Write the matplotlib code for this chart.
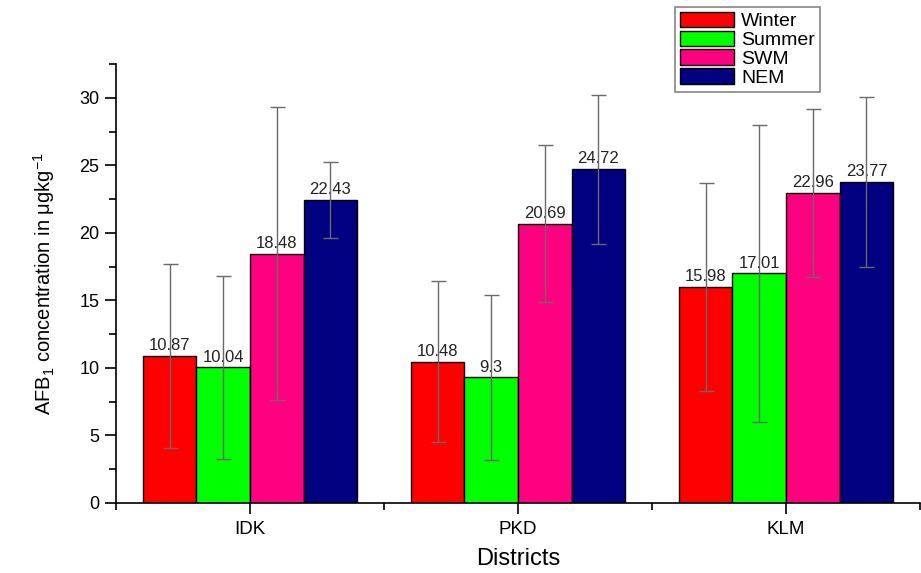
import numpy as np
import matplotlib
matplotlib.use("Agg")
import matplotlib.pyplot as plt
from matplotlib.ticker import MultipleLocator, FixedLocator

plt.rcParams['font.family'] = ['Liberation Sans', 'DejaVu Sans']
plt.rcParams['mathtext.fontset'] = 'custom'
plt.rcParams['mathtext.rm'] = 'Liberation Sans'
plt.rcParams['mathtext.it'] = 'Liberation Sans:italic'

districts = ['IDK', 'PKD', 'KLM']
seasons = ['Winter', 'Summer', 'SWM', 'NEM']
colores = ['#ff0000', '#00ff00', '#ff0080', '#000080']

winter = [10.87, 10.48, 15.98]
summer = [10.04, 9.3, 17.01]
swm = [18.48, 20.69, 22.96]
nem = [22.43, 24.72, 23.77]

err_winter = [6.8, 5.95, 7.7]
err_summer = [6.75, 6.1, 11.0]
err_swm = [10.85, 5.8, 6.2]
err_nem = [2.8, 5.5, 6.3]

valores = [winter, summer, swm, nem]
erros = [err_winter, err_summer, err_swm, err_nem]

fig = plt.figure(figsize=(9.21, 5.73), dpi=100)
ax = fig.add_axes([0.126, 0.1222, 0.873, 0.7657])

x = np.arange(len(districts))
largura = 0.2
for i in range(len(seasons)):
    pos = x + (i - 1.5) * largura
    ax.bar(pos, valores[i], largura, color=colores[i], edgecolor='black',
           linewidth=1, label=seasons[i], zorder=2)
    ax.errorbar(pos, valores[i], yerr=erros[i], fmt='none', ecolor='#6a6a6a',
                elinewidth=1, capsize=5.4, capthick=1, zorder=5)
    for xp, v in zip(pos, valores[i]):
        ax.annotate(str(v), (xp, v), xytext=(0, 2), textcoords='offset points',
                    ha='center', va='bottom', fontsize=12, color='#222222', zorder=3)

ax.set_xlim(-0.5, 2.5)
ax.set_ylim(0, 32.5)
ax.set_xticks(x)
ax.set_xticklabels(districts, fontsize=13.5)
ax.xaxis.set_minor_locator(FixedLocator([-0.5, 0.5, 1.5, 2.5]))
ax.yaxis.set_major_locator(MultipleLocator(5))
ax.yaxis.set_minor_locator(MultipleLocator(2.5))
ax.tick_params(axis='both', which='major', direction='out', length=8, width=1.2)
ax.tick_params(axis='both', which='minor', direction='out', length=5, width=1.2)
ax.tick_params(axis='y', labelsize=13, pad=4)
ax.tick_params(axis='x', pad=5)

for lado in ['top', 'right']:
    ax.spines[lado].set_visible(False)
for lado in ['left', 'bottom']:
    ax.spines[lado].set_linewidth(1.2)

ax.set_xlabel('Districts', fontsize=17, labelpad=7)
ax.set_ylabel(r'AFB$\mathregular{_1}$ concentration in μgkg$^{\mathregular{-1}}$', fontsize=14.5, labelpad=16)

leg = fig.legend(loc='upper left', bbox_to_anchor=(0.733, 0.988), fontsize=14,
                 frameon=True, fancybox=False, edgecolor='#666666',
                 handlelength=2.8, handleheight=0.85, labelspacing=0.02,
                 handletextpad=0.35, borderpad=0.25, borderaxespad=0)
leg.get_frame().set_linewidth(1.2)

fig.savefig('out.png', dpi=100)
